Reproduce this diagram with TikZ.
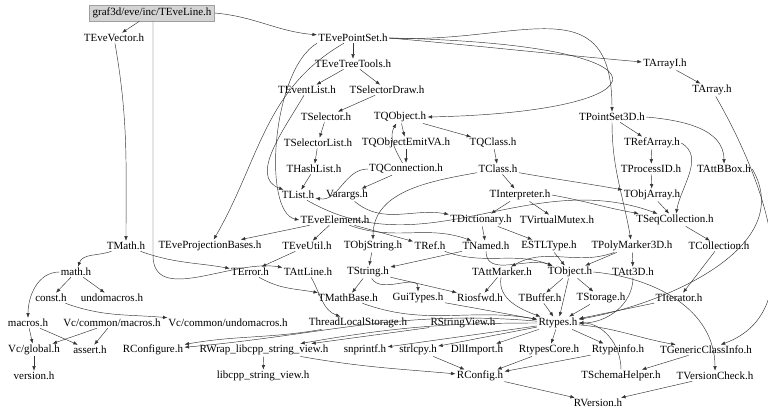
\documentclass[tikz,border=0pt]{standalone}
\usepackage{fontspec}
\setmainfont{Liberation Serif}
\usepackage{tikz}
\usetikzlibrary{arrows.meta,positioning}
\definecolor{hdrgray}{rgb}{.83,.83,.83}
\definecolor{edgegray}{rgb}{.2,.2,.2}

\begin{document}
\begin{tikzpicture}[% styles for the whole include graph
					x=1pt,y=1pt,
					every node/.style={
						font=\fontsize{11}{13}\selectfont,
						inner sep=1.2pt		% arrows stop close to the file names
						},
					hdr/.style={fill=hdrgray,draw=hdrgray!75!black,inner sep=3pt},
					every edge/.style={draw=edgegray,line width=.45pt},
					>={Latex[length=4.5pt,width=3.5pt]}
					]
\useasboundingbox (0,0) rectangle (768,-416);
% top of the graph
\node[hdr](TEveLine) at (152,-13){graf3d/eve/inc/TEveLine.h};
\node(TEveVector) at (114,-38){TEveVector.h};
\node(TEvePointSet) at (353,-38){TEvePointSet.h};
\node(TEveTreeTools) at (353,-64){TEveTreeTools.h};
\node(TArrayI) at (665,-64){TArrayI.h};
\node(TEventList) at (307,-90){TEventList.h};
\node(TSelectorDraw) at (387,-90){TSelectorDraw.h};
\node(TArray) at (712,-90){TArray.h};
\node(TSelector) at (326,-117){TSelector.h};
\node(TQObject) at (400,-117){TQObject.h};
\node(TPointSet3D) at (612,-117){TPointSet3D.h};
\node(TSelectorList) at (318,-143){TSelectorList.h};
\node(TQObjectEmitVA) at (406,-143){TQObjectEmitVA.h};
\node(TQClass) at (493,-143){TQClass.h};
\node(TRefArray) at (652,-143){TRefArray.h};
\node(THashList) at (314,-169){THashList.h};
\node(TQConnection) at (406,-169){TQConnection.h};
\node(TClass) at (498,-169){TClass.h};
\node(TProcessID) at (651,-169){TProcessID.h};
\node(TAttBBox) at (724,-169){TAttBBox.h};
\node(TList) at (298,-195){TList.h};
\node(Varargs) at (347,-195){Varargs.h};
\node(TInterpreter) at (520,-195){TInterpreter.h};
\node(TObjArray) at (652,-195){TObjArray.h};
\node(TEveElement) at (335,-220){TEveElement.h};
\node(TDictionary) at (481,-220){TDictionary.h};
\node(TVirtualMutex) at (557,-220){TVirtualMutex.h};
\node(TSeqCollection) at (675,-220){TSeqCollection.h};
% middle rows
\node(TMath) at (126,-246){TMath.h};
\node(TEveProjectionBases) at (210,-246){TEveProjectionBases.h};
\node(TEveUtil) at (307,-246){TEveUtil.h};
\node(TObjString) at (373,-246){TObjString.h};
\node(TRef) at (430,-246){TRef.h};
\node(TNamed) at (486,-246){TNamed.h};
\node(ESTLType) at (549,-246){ESTLType.h};
\node(TPolyMarker3D) at (632,-246){TPolyMarker3D.h};
\node(TCollection) at (719,-246){TCollection.h};
\node(math) at (76,-272){math.h};
\node(TError) at (250,-272){TError.h};
\node(TAttLine) at (308,-272){TAttLine.h};
\node(TString) at (368,-272){TString.h};
\node(TAttMarker) at (502,-272){TAttMarker.h};
\node(TObject) at (570,-272){TObject.h};
\node(TAtt3D) at (633,-272){TAtt3D.h};
\node(const) at (51,-298){const.h};
\node(undomacros) at (112,-298){undomacros.h};
\node(TMathBase) at (348,-298){TMathBase.h};
\node(GuiTypes) at (418,-298){GuiTypes.h};
\node(Riosfwd) at (480,-298){Riosfwd.h};
\node(TBuffer) at (540,-298){TBuffer.h};
\node(TStorage) at (601,-298){TStorage.h};
\node(TIterator) at (679,-298){TIterator.h};
% bottom rows
\node(macros) at (28,-323){macros.h};
\node(VcMacros) at (112,-323){Vc/common/macros.h};
\node(VcUndomacros) at (228,-323){Vc/common/undomacros.h};
\node(ThreadLocalStorage) at (358,-323){ThreadLocalStorage.h};
\node(RStringView) at (463,-323){RStringView.h};
\node(Rtypes) at (558,-323){Rtypes.h};
\node(VcGlobal) at (34,-350){Vc/global.h};
\node(assert) at (90,-350){assert.h};
\node(RConfigure) at (153,-350){RConfigure.h};
\node(RWrap) at (264,-350){RWrap\_libcpp\_string\_view.h};
\node(snprintf) at (365,-350){snprintf.h};
\node(strlcpy) at (418,-350){strlcpy.h};
\node(DllImport) at (477,-350){DllImport.h};
\node(RtypesCore) at (549,-350){RtypesCore.h};
\node(Rtypeinfo) at (618,-350){Rtypeinfo.h};
\node(TGenericClassInfo) at (706,-350){TGenericClassInfo.h};
\node(version) at (34,-376){version.h};
\node(libcpp) at (263,-376){libcpp\_string\_view.h};
\node(RConfig) at (480,-376){RConfig.h};
\node(TSchemaHelper) at (621,-376){TSchemaHelper.h};
\node(TVersionCheck) at (715,-376){TVersionCheck.h};
\node(RVersion) at (598,-403){RVersion.h};
% includes
\path[->]
(TEveLine)edge[]node[]{}(TEveVector)
(TEveLine.east)edge[out=-5,in=175](TEvePointSet)
(TEveVector)edge[out=-80,in=90](TMath)
(TEvePointSet)edge[](TEveTreeTools)
(TEvePointSet.east)edge[out=-5,in=175](TArrayI)
(TEvePointSet.east)edge[out=-3,in=90,looseness=1.4](TPointSet3D)
(TEvePointSet)edge[out=-150,in=60](TEveProjectionBases)
(TArrayI)edge[](TArray)
(TEveTreeTools)edge[](TEventList)
(TEveTreeTools)edge[](TSelectorDraw)
(TSelectorDraw)edge[](TSelector)
(TSelector)edge[](TSelectorList)
(TSelectorList)edge[](THashList)
(THashList)edge[](TList)
(TEventList)edge[out=-120,in=160](TList)
(TQObject)edge[](TQObjectEmitVA)
(TQObject)edge[](TQClass)
(TQObjectEmitVA)edge[](TQConnection)
(TQConnection)edge[](Varargs)
(TQConnection)edge[out=180,in=-10](TList)
(TQConnection)edge[out=120,in=-120](TQObject)
(TQClass)edge[](TClass)
(TClass)edge[out=-10,in=170](TObjArray)
(TClass)edge[](TInterpreter)
(TClass)edge[out=190,in=90](TObjString)
(TPointSet3D)edge[](TRefArray)
(TPointSet3D.east)edge[out=-5,in=90](TAttBBox)
(TPointSet3D)edge[out=-90,in=100](TPolyMarker3D)
(TRefArray)edge[](TProcessID)
(TProcessID)edge[](TObjArray)
(TRefArray.east)edge[out=-30,in=80](TSeqCollection)
(TObjArray)edge[](TSeqCollection)
(TList)edge[out=-30,in=160](TSeqCollection)
(TInterpreter)edge[](TDictionary)
(TInterpreter)edge[](TVirtualMutex)
(TInterpreter.east)edge[out=-10,in=170](TSeqCollection)
(Varargs)edge[out=-40,in=170](TDictionary)
(TSeqCollection)edge[](TCollection)
(TEveElement)edge[](TEveProjectionBases)
(TEveElement)edge[](TEveUtil)
(TEveElement)edge[](TRef)
(TEveElement)edge[out=-20,in=160](TNamed)
(TDictionary)edge[](TNamed)
(TDictionary)edge[](ESTLType)
(TCollection)edge[](TIterator)
(TMath)edge[out=200,in=70](math)
(TMath)edge[out=-20,in=170](TError)
(TEveUtil)edge[](TError)
(TObjString)edge[](TString)
(TNamed)edge[](TString)
(TNamed)edge[out=-90,in=160](TObject)
(TRef)edge[out=-20,in=160](TObject)
(ESTLType)edge[](TObject)
(TPolyMarker3D)edge[](TObject)
(TPolyMarker3D)edge[](TAtt3D)
(TPolyMarker3D)edge[out=200,in=30](TAttMarker)
(TString)edge[](TMathBase)
(TString)edge[](Riosfwd)
(TString)edge[out=-60,in=90](GuiTypes)
(TError)edge[out=-30,in=170](TMathBase)
(TAttLine)edge[out=-60,in=160](ThreadLocalStorage)
(TAttMarker)edge[](Riosfwd)
(TAttMarker)edge[out=-100,in=160](Rtypes)
(TObject)edge[](TBuffer)
(TObject)edge[](TStorage)
(TObject)edge[](Rtypes)
(TObject.east)edge[out=-5,in=90](TVersionCheck)
(TAtt3D)edge[out=-90,in=0](Rtypes)
(TBuffer)edge[](Rtypes)
(TStorage)edge[](Rtypes)
(TIterator)edge[](Rtypes)
(TMathBase)edge[out=-20,in=170](Rtypes)
(GuiTypes)edge[out=-10,in=170](Rtypes)
(TAttBBox.east)edge[out=-60,in=10](Rtypes)
(TArray)edge[out=-60,in=20](TGenericClassInfo)
% lower part
(math)edge[](const)
(math)edge[](undomacros)
(math)edge[out=180,in=90](macros)
(const)edge[out=-20,in=175](VcUndomacros)
(macros)edge[](VcGlobal)
(macros)edge[](assert)
(VcMacros)edge[](VcGlobal)
(VcMacros)edge[](assert)
(VcGlobal)edge[](version)
(Rtypes)edge[out=175,in=5](RConfigure)
(Rtypes)edge[out=180,in=10](RWrap)
(Rtypes)edge[](snprintf)
(Rtypes)edge[](strlcpy)
(Rtypes)edge[](DllImport)
(Rtypes)edge[](RtypesCore)
(Rtypes)edge[](Rtypeinfo)
(Rtypes)edge[out=-5,in=170](TGenericClassInfo)
(RStringView)edge[](RWrap)
(ThreadLocalStorage)edge[out=190,in=10](RConfigure)
(RWrap)edge[](libcpp)
(RWrap)edge[out=-10,in=175](RConfig)
(strlcpy)edge[](RConfig)
(RtypesCore)edge[](RConfig)
(Rtypeinfo)edge[](RConfig)
(TGenericClassInfo)edge[](TSchemaHelper)
(TSchemaHelper)edge[out=90,in=0](Rtypes)
(RConfig)edge[](RVersion)
(TVersionCheck)edge[](RVersion)
;
% the long includes that loop round
\draw[->,draw=edgegray,line width=.45pt](TEvePointSet.east) .. controls (690,-44) and (670,-112) .. (TQObject.east);
\draw[->,draw=edgegray,line width=.45pt](TEvePointSet.south west) .. controls (272,-70) and (262,-212) .. (TEveElement.west);
\draw[->,draw=edgegray,line width=.45pt](TEveLine.south -| 153,0)--(153,-255) to[out=-90,in=170](TAttLine);
\end{tikzpicture}
\end{document}
